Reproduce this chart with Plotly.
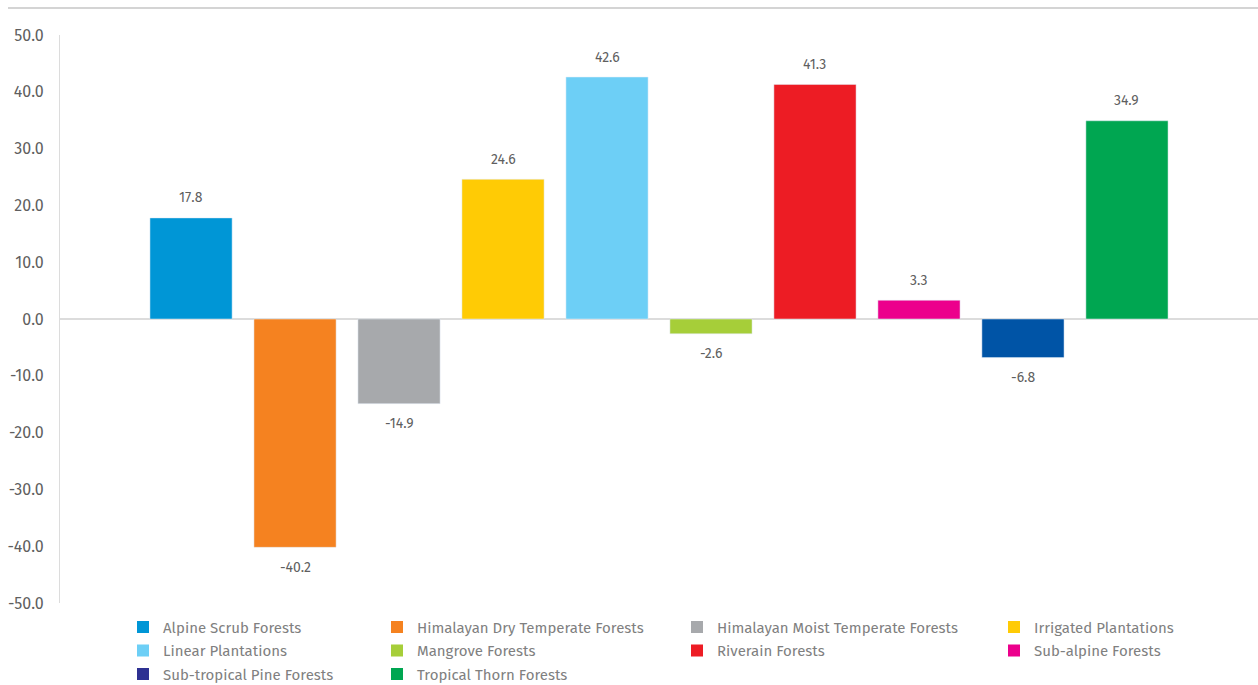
import plotly.graph_objects as go

# Forest types and their change values (%)
categories = [
    "Alpine Scrub Forests",
    "Himalayan Dry Temperate Forests",
    "Himalayan Moist Temperate Forests",
    "Irrigated Plantations",
    "Linear Plantations",
    "Mangrove Forests",
    "Riverain Forests",
    "Sub-alpine Forests",
    "Sub-tropical Pine Forests",
    "Tropical Thorn Forests",
]
values = [17.8, -40.2, -14.9, 24.6, 42.6, -2.6, 41.3, 3.3, -6.8, 34.9]
bar_colors = ["#0096d6", "#f58220", "#a7a9ac", "#ffcb05", "#6dcff6",
              "#a6ce39", "#ed1c24", "#ec008c", "#0054a6", "#00a651"]
legend_colors = ["#0096d6", "#f58220", "#a7a9ac", "#ffcb05", "#6dcff6",
                 "#a6ce39", "#ed1c24", "#ec008c", "#2e3192", "#00a651"]
y_ticks = [50, 40, 30, 20, 10, 0, -10, -20, -30, -40, -50]

FONT = "Fira Sans, Roboto, sans-serif"
TEXT_GRAY = "#5f5f5f"
LEGEND_GRAY = "#808080"

fig = go.Figure()

# one bar per forest type
for i, (name, v, c) in enumerate(zip(categories, values, bar_colors)):
    fig.add_trace(go.Bar(
        x=[i], y=[v], name=name, marker_color=c, width=0.79,
        showlegend=False, hoverinfo="name+y",
    ))
    fig.add_annotation(
        x=i, y=v, text=f"{v:.1f}", showarrow=False,
        yshift=20 if v >= 0 else -20,
        font=dict(family=FONT, size=14, color=TEXT_GRAY),
    )

# legend laid out in four columns, filled row by row
legend_names = ["legend", "legend2", "legend3", "legend4"]
for i, (name, c) in enumerate(zip(categories, legend_colors)):
    fig.add_trace(go.Scatter(
        x=[None], y=[None], mode="markers", name=name,
        marker=dict(symbol="square", size=9, color=c),
        legend=legend_names[i % 4], legendgroup=name, showlegend=True,
    ))

legend_px = [123, 377, 677, 994]
legend_common = dict(
    xref="paper", yref="paper", yanchor="top", xanchor="left",
    y=-0.0137, orientation="v", bgcolor="rgba(0,0,0,0)",
    font=dict(family=FONT, size=15, color=LEGEND_GRAY),
    tracegroupgap=1, itemsizing="constant",
)
layout_legends = {}
for ln, lx in zip(legend_names, legend_px):
    layout_legends[ln] = dict(x=(lx - 60) / 1198, **legend_common)

fig.update_layout(
    width=1258, height=685,
    margin=dict(l=60, r=0, t=35, b=82, autoexpand=False),
    paper_bgcolor="white", plot_bgcolor="white",
    barmode="overlay",
    font=dict(family=FONT, color=TEXT_GRAY),
    xaxis=dict(
        range=[-1.26, 10.26], showticklabels=False, showgrid=False,
        zeroline=False, showline=False, fixedrange=True,
    ),
    yaxis=dict(
        range=[-50, 50], tickvals=y_ticks,
        ticktext=[f"{t:.1f}" for t in y_ticks],
        showgrid=False, zeroline=True, zerolinecolor="#dcdcdc", zerolinewidth=2,
        showline=True, linecolor="#dcdcdc", linewidth=1,
        ticks="", ticklabelstandoff=12,
        tickfont=dict(family=FONT, size=16, color=TEXT_GRAY),
    ),
    **layout_legends,
)

# thin rule along the top of the chart
fig.add_shape(type="line", xref="paper", yref="paper",
              x0=-52 / 1198, x1=1, y0=1 + 27 / 568, y1=1 + 27 / 568,
              line=dict(color="#d4d4d4", width=2))

fig.write_html("out.html")
